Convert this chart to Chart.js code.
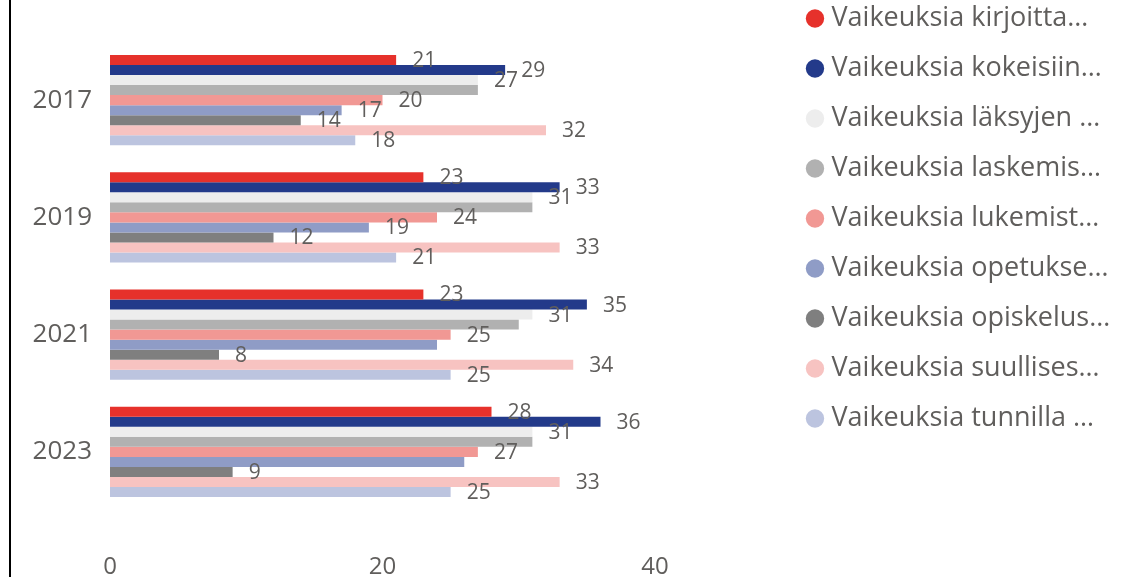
<!DOCTYPE html>
<html>
<head>
<meta charset="utf-8">
<script src="https://cdn.jsdelivr.net/npm/chart.js@4.4.0/dist/chart.umd.min.js"></script>
<style>
    body { margin: 0; background: #fff; }
    #wrap { position: relative; width: 1142px; height: 577px; }
    #reuna { position: absolute; left: 9px; top: 0; width: 2px; height: 577px; background: #000; }
    canvas { display: block; }
</style>
</head>
<body>
<div id="wrap">
    <div id="reuna"></div>
    <canvas id="myChart" width="1142" height="577"></canvas>
</div>
<script>
var categories = ["2017", "2019", "2021", "2023"];
var seriesNames = ["Vaikeuksia kirjoitta…", "Vaikeuksia kokeisiin…", "Vaikeuksia läksyjen …", "Vaikeuksia laskemis…",
    "Vaikeuksia lukemist…", "Vaikeuksia opetukse…", "Vaikeuksia opiskelus…", "Vaikeuksia suullises…", "Vaikeuksia tunnilla …"];
var kirjoitta = [21, 23, 23, 28];
var kokeisiin = [29, 33, 35, 36];
var laksyjen = [27, 31, 31, 31];
var laskemis = [27, 31, 30, 31];
var lukemist = [20, 24, 25, 27];
var opetukse = [17, 19, 24, 26];
var opiskelus = [14, 12, 8, 9];
var suullises = [32, 33, 34, 33];
var tunnilla = [18, 21, 25, 25];
var xTicks = [0, 20, 40];

var seriesValues = [kirjoitta, kokeisiin, laksyjen, laskemis, lukemist, opetukse, opiskelus, suullises, tunnilla];
var barColors = ["#E6312B", "#233A8A", "#EDEDED", "#B1B1B1", "#F19894", "#8F9CC6", "#7F7F7F", "#F7C3C1", "#BCC4DF"];
var textColor = "#605E5C";

Chart.defaults.font.family = '"Open Sans", sans-serif';
Chart.defaults.color = textColor;

// Power BI piilottaa päällekkäin osuvat arvot, tehdään samoin
var arvoTekstit = {
    id: 'arvoTekstit',
    afterDatasetsDraw: function (chart) {
        var ctx = chart.ctx;
        ctx.save();
        ctx.font = '21px "Open Sans"';
        ctx.fillStyle = textColor;
        ctx.textAlign = 'left';
        ctx.textBaseline = 'middle';
        for (var i = 0; i < categories.length; i++) {
            var boxes = [];
            chart.data.datasets.forEach(function (ds, d) {
                var bar = chart.getDatasetMeta(d).data[i];
                var text = String(ds.data[i]);
                var w = ctx.measureText(text).width;
                var x = bar.x + 16;
                var y = bar.y + 1;
                var box = { x1: x, x2: x + w, y1: y - 8, y2: y + 8 };
                var osuu = boxes.some(function (b) {
                    return box.x1 < b.x2 && box.x2 > b.x1 && box.y1 < b.y2 && box.y2 > b.y1;
                });
                if (osuu) return;
                boxes.push(box);
                ctx.fillText(text, x, y);
            });
        }
        ctx.restore();
    }
};

// selite oikeaan laitaan
var selitePaikka = {
    id: 'selitePaikka',
    afterLayout: function (chart) {
        var l = chart.legend;
        l.left = 789;
        l.right = 1142;
        l.top = -18;
        l.bottom = 577;
    }
};

var datasets = [];
for (var s = 0; s < seriesNames.length; s++) {
    datasets.push({
        label: seriesNames[s],
        data: seriesValues[s],
        backgroundColor: barColors[s],
        borderWidth: 0,
        categoryPercentage: 0.77,
        barPercentage: 1.0
    });
}

new Chart("myChart", {
    type: "bar",
    data: {
        labels: categories,
        datasets: datasets
    },
    options: {
        indexAxis: 'y',
        responsive: false,
        animation: false,
        layout: { padding: { top: 41.5, left: 0, right: 487, bottom: 0 } },
        plugins: {
            legend: {
                position: 'chartArea',
                align: 'start',
                labels: {
                    usePointStyle: true,
                    pointStyle: 'circle',
                    boxWidth: 6,
                    boxHeight: 13,
                    padding: 23,
                    color: textColor,
                    font: { size: 27 }
                }
            },
            tooltip: { enabled: false }
        },
        scales: {
            x: {
                min: 0,
                max: 40,
                grid: { display: false, drawTicks: false },
                border: { display: false },
                afterBuildTicks: function (scale) {
                    scale.ticks = xTicks.map(function (v) { return { value: v }; });
                },
                afterFit: function (scale) { scale.height = 66.5; },
                ticks: { padding: 42, color: textColor, font: { size: 24 } }
            },
            y: {
                grid: { display: false, drawTicks: false },
                border: { display: false },
                afterFit: function (scale) { scale.width = 110; },
                ticks: { padding: 18, color: textColor, font: { size: 26 } }
            }
        }
    },
    plugins: [arvoTekstit, selitePaikka]
});
</script>
</body>
</html>
